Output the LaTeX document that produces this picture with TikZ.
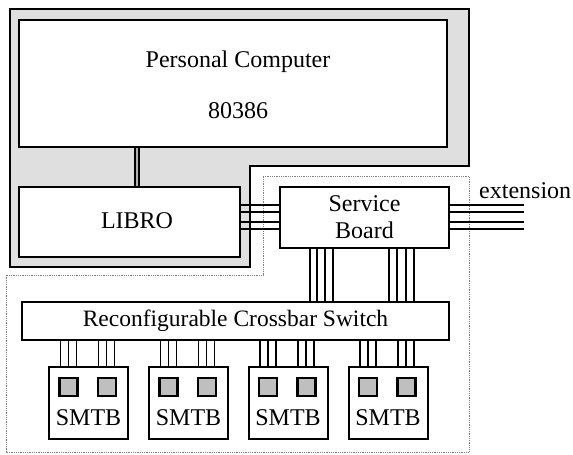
\documentclass[tikz,border=0pt]{standalone}
\usepackage{fontspec}
\setmainfont{Liberation Serif}
\usetikzlibrary{calc}
\begin{document}
\begin{tikzpicture}[x=1pt,y=-1pt,
  box/.style={draw, line width=2pt, fill=white, inner sep=0pt},
  wire/.style={line width=1.5pt},
  lbl/.style={font=\fontsize{24}{27}\selectfont, inner sep=0pt, align=center},
  chip/.style={draw, line width=2.6pt, fill=gray!50, minimum size=18pt, inner sep=0pt},
  dots/.style={draw=gray, densely dotted, line width=0.8pt},
  conn/.style={line width=1.6pt, double=gray!60, double distance=2.5pt},
  encl/.style={line width=2pt, fill=gray!25}]
\useasboundingbox (0,0) rectangle (573,455);
\fill[white] (0,0) rectangle (573,455);
% dotted lower region
\draw[dots] (263,176) -- (469,176) -- (469,452) -- (6,452) -- (6,275) -- (263,275) -- cycle;
% PC enclosure
\draw[encl] (10,9) -- (469,9) -- (469,166) -- (250,166) -- (250,267) -- (10,267) -- cycle;
% boxes
\node[box, minimum width=428pt, minimum height=127pt] (pc) at (233,83.5) {};
\node[lbl] (pct) at (238,62) {Personal Computer};
\node[lbl] (pcn) at (238,111) {80386};
\node[box, minimum width=221pt, minimum height=70pt] (libro) at (129.5,222) {};
\node[lbl] (librot) at (137,221) {LIBRO};
\node[box, lbl, minimum width=169pt, minimum height=61pt] (sb) at (364.5,217.5) {Service\\Board};
\node[box, lbl, font=\fontsize{23.5}{27}\selectfont, minimum width=427pt, minimum height=38pt] (xbar) at (235.5,321) {Reconfigurable Crossbar Switch};
\node[lbl, anchor=west] (extt) at (479,191) {extension};
\coordinate (ext) at (524,219.5);
% PC - LIBRO
\draw[conn] (pc.south -| librot) -- (libro.north -| librot);
% LIBRO - SB and extension
\foreach \d in {12.5,5.5,-4.5,-11.5} {
  \draw[wire] ([yshift=\d pt]sb.west -| libro.east) -- ([yshift=\d pt]sb.west);
  \draw[wire] ([yshift=\d pt]sb.east) -- ([yshift=\d pt]sb.east -| ext);
}
% SB - crossbar
\foreach \d in {-54.5,-47.5,-39.5,-31.5,24.5,32.5,41.5,49.5}
  \draw[wire] ([xshift=\d pt]sb.south) -- ([xshift=\d pt]sb.south |- xbar.north);
% SMTBs
\foreach \i/\cx in {1/88.5, 2/188.5, 3/288, 4/388} {
  \node[box, minimum width=79pt, minimum height=72pt] (s\i) at (\cx,403) {};
  \node[lbl] (st\i) at (\cx,418) {SMTB};
  \node[chip] (ca\i) at (\cx-20,387) {};
  \node[chip] (cb\i) at (\cx+18.5,387) {};
  \foreach \d in {-28,-20,-12,10,18,26}
    \draw[wire] ([xshift=\d pt]s\i.north) -- ([xshift=\d pt]s\i.north |- xbar.south);
}
\end{tikzpicture}
\end{document}
